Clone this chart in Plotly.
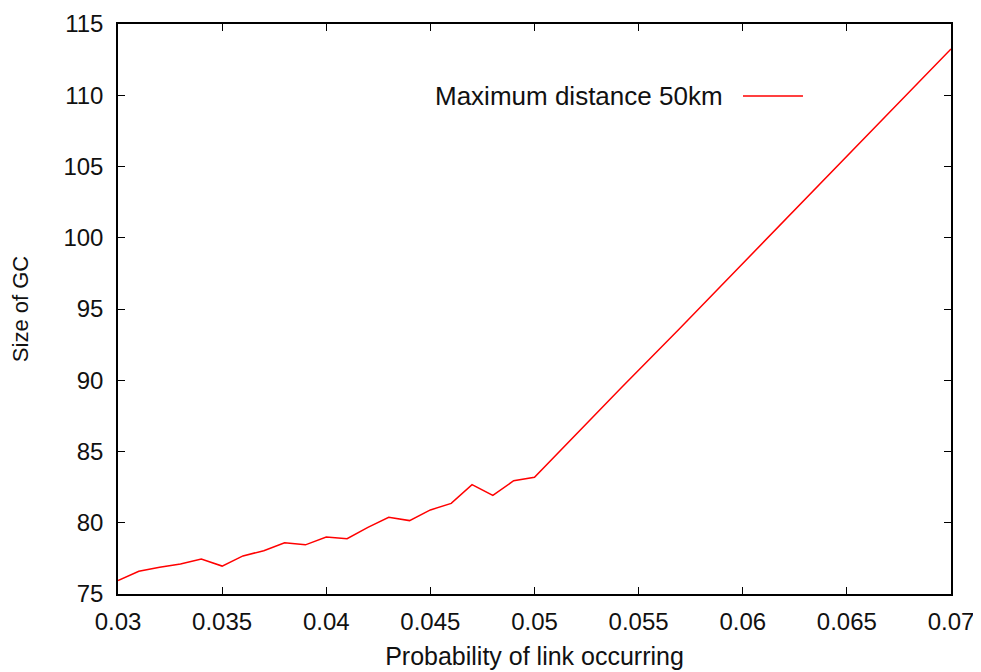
import plotly.graph_objects as go

# Data
prob = [0.030, 0.031, 0.032, 0.033, 0.034, 0.035, 0.036, 0.037, 0.038, 0.039,
        0.040, 0.041, 0.042, 0.043, 0.044, 0.045, 0.046, 0.047, 0.048, 0.049,
        0.050, 0.05138, 0.05419, 0.05695, 0.05974, 0.06251, 0.06528, 0.06807, 0.070]
gc_size = [75.95, 76.6, 76.87, 77.1, 77.45, 76.96, 77.67, 78.04, 78.6, 78.45,
           79.0, 78.88, 79.68, 80.38, 80.15, 80.9, 81.36, 82.67, 81.92, 82.95,
           83.19, 85.29, 89.51, 93.6, 97.79, 101.95, 106.11, 110.3, 113.25]

x_ticks = [0.03, 0.035, 0.04, 0.045, 0.05, 0.055, 0.06, 0.065, 0.07]
x_tick_labels = ["0.03", "0.035", "0.04", "0.045", "0.05", "0.055", "0.06", "0.065", "0.07"]
y_ticks = [75, 80, 85, 90, 95, 100, 105, 110, 115]
y_tick_labels = ["75", "80", "85", "90", "95", "100", "105", "110", "115"]

series_name = "Maximum distance 50km"
FONT = "Liberation Sans, Arial, sans-serif"
TXT = "#111111"

fig = go.Figure()
fig.add_trace(go.Scatter(x=prob, y=gc_size, mode="lines", name=series_name,
                         line=dict(color="#ff0000", width=1.5), showlegend=False))

axis_common = dict(showline=True, linecolor="black", linewidth=1.5, mirror="ticks",
                   ticks="inside", ticklen=7, tickwidth=1.2, tickcolor="black",
                   showgrid=False, zeroline=False, automargin=False,
                   tickfont=dict(family=FONT, size=24, color=TXT))

fig.update_xaxes(range=[0.03, 0.07], tickvals=x_ticks, ticktext=x_tick_labels,
                 ticklabelstandoff=5,
                 title=dict(text="Probability of link occurring",
                            font=dict(family=FONT, size=25, color=TXT), standoff=14),
                 **axis_common)
fig.update_yaxes(range=[75, 115], tickvals=y_ticks, ticktext=y_tick_labels,
                 ticklabelstandoff=8,
                 title=dict(text="Size of GC",
                            font=dict(family=FONT, size=22, color=TXT), standoff=29),
                 **axis_common)

# Legend (text to the left of the line sample, as in the reference)
fig.add_annotation(xref="paper", yref="paper", x=0.7287, y=0.8737, text=series_name,
                   showarrow=False, xanchor="right", yanchor="middle",
                   font=dict(family=FONT, size=26, color=TXT))
fig.add_shape(type="line", xref="paper", yref="paper", x0=0.7503, x1=0.8223,
              y0=0.8737, y1=0.8737, line=dict(color="#ff0000", width=1.5))

fig.update_layout(width=981, height=672, paper_bgcolor="white", plot_bgcolor="white",
                  margin=dict(l=110, r=38, t=16, b=86),
                  font=dict(family=FONT, size=24, color=TXT))

fig.write_html("out.html")
